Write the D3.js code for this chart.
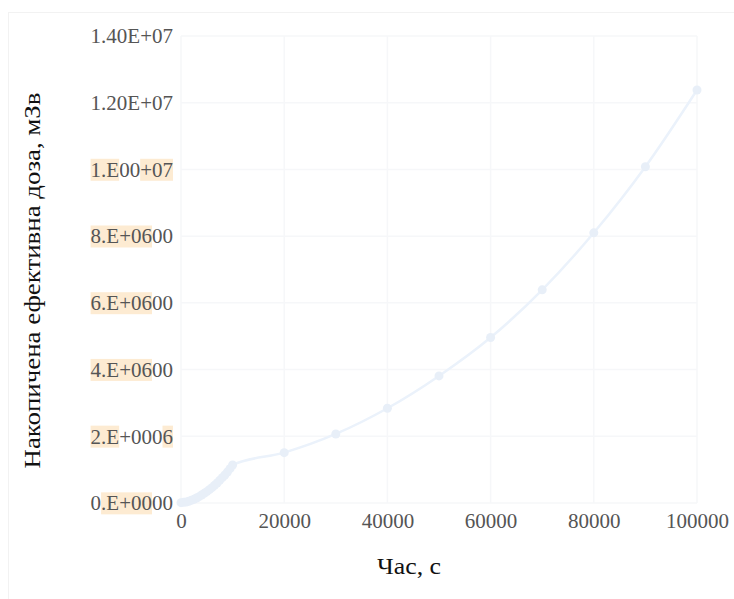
<!DOCTYPE html>
<html>
<head>
<meta charset="utf-8">
<script src="https://cdn.jsdelivr.net/npm/d3@7"></script>
<style>
  body { margin: 0; background: #fff; }
  svg { display: block; }
</style>
</head>
<body>
<script>
'use strict';

const width = 734;
const height = 599;
const margin = {top: 36, right: 37, bottom: 96, left: 181};

// time, s
const times = [0, 500, 1000, 1500, 2000, 2500, 3000, 3500, 4000, 4500, 5000,
  5500, 6000, 6500, 7000, 7500, 8000, 8500, 9000, 9500, 10000,
  20000, 30000, 40000, 50000, 60000, 70000, 80000, 90000, 100000];
// accumulated dose, mSv
const doses = [0.01e6, 0.02e6, 0.03e6, 0.05e6, 0.08e6, 0.11e6, 0.15e6, 0.19e6, 0.24e6, 0.29e6, 0.34e6,
  0.40e6, 0.46e6, 0.53e6, 0.60e6, 0.68e6, 0.76e6, 0.84e6, 0.93e6, 1.03e6, 1.14e6,
  1.51e6, 2.07e6, 2.84e6, 3.81e6, 4.96e6, 6.39e6, 8.10e6, 10.08e6, 12.38e6];

const xTicks = [0, 20000, 40000, 60000, 80000, 100000];
const yTicks = [0, 2e6, 4e6, 6e6, 8e6, 10e6, 12e6, 14e6];
// tick labels as drawn, split into [text, highlighted] pieces
const yTickLabels = [
  [['0', false], ['.E+00', true], ['00', false]],
  [['2.E', true], ['+000', false], ['6', true]],
  [['4.E+06', true], ['00', false]],
  [['6.E+06', true], ['00', false]],
  [['8.E+06', true], ['00', false]],
  [['1.E', true], ['00', false], ['+07', true]],
  [['1.20E+07', false]],
  [['1.40E+07', false]]
];

const xTitle = 'Час, с';
const yTitle = 'Накопичена ефективна доза, мЗв';

const data = times.map((t, i) => ({t: t, v: doses[i]}));

const svg = d3.select('body')
  .append('svg')
  .attr('width', width)
  .attr('height', height)
  .style('font-family', '"Liberation Serif", "Times New Roman", serif');

// outer frame
svg.append('rect')
  .attr('x', 8.5)
  .attr('y', 12.5)
  .attr('width', width)
  .attr('height', height)
  .attr('fill', '#fff')
  .attr('stroke', '#f2f2f2');

const xScale = d3.scaleLinear()
  .domain([0, 100000])
  .range([margin.left, width - margin.right]);

const yScale = d3.scaleLinear()
  .domain([0, 14e6])
  .range([height - margin.bottom, margin.top]);

// grid
svg.append('g')
  .selectAll('line')
  .data(xTicks)
  .enter()
  .append('line')
  .attr('x1', (d) => xScale(d))
  .attr('x2', (d) => xScale(d))
  .attr('y1', yScale(0))
  .attr('y2', yScale(14e6))
  .attr('stroke', '#f6f7f9')
  .attr('stroke-width', 1.5);

svg.append('g')
  .selectAll('line')
  .data(yTicks)
  .enter()
  .append('line')
  .attr('x1', xScale(0))
  .attr('x2', xScale(100000))
  .attr('y1', (d) => yScale(d))
  .attr('y2', (d) => yScale(d))
  .attr('stroke', '#f6f7f9')
  .attr('stroke-width', 1.5);

// x axis labels
const xAxis = d3.axisBottom(xScale)
  .tickValues(xTicks)
  .tickFormat(d3.format('d'))
  .tickSize(0)
  .tickPadding(10);

const gx = svg.append('g')
  .attr('transform', `translate(0, ${yScale(0)})`)
  .call(xAxis);
gx.select('.domain').remove();
gx.selectAll('text')
  .attr('font-family', '"Liberation Serif", serif')
  .attr('font-size', '21px')
  .attr('fill', '#555');

// y axis labels with highlighted pieces
const yLabels = svg.append('g');
yTicks.forEach((v, i) => {
  const g = yLabels.append('g');
  const text = g.append('text')
    .attr('x', margin.left - 8)
    .attr('y', yScale(v))
    .attr('dy', '0.35em')
    .attr('text-anchor', 'end')
    .attr('font-size', '21px')
    .attr('fill', '#555');
  yTickLabels[i].forEach((p) => text.append('tspan').text(p[0]));

  const node = text.node();
  const bb = node.getBBox();
  let offset = 0;
  yTickLabels[i].forEach((p) => {
    const w = node.getSubStringLength(offset, p[0].length);
    const x0 = node.getStartPositionOfChar(offset).x;
    if (p[1]) {
      g.insert('rect', 'text')
        .attr('x', x0)
        .attr('y', bb.y + 1)
        .attr('width', w)
        .attr('height', bb.height - 2)
        .attr('fill', '#fdebd2');
    }
    offset += p[0].length;
  });
});

// line and markers
const line = d3.line()
  .x((d) => xScale(d.t))
  .y((d) => yScale(d.v))
  .curve(d3.curveMonotoneX);

svg.append('path')
  .datum(data)
  .attr('d', line)
  .attr('fill', 'none')
  .attr('stroke', '#ebf2fb')
  .attr('stroke-width', 2.5);

svg.selectAll('circle.pt')
  .data(data)
  .enter()
  .append('circle')
  .attr('class', 'pt')
  .attr('cx', (d) => xScale(d.t))
  .attr('cy', (d) => yScale(d.v))
  .attr('r', 4.5)
  .attr('fill', '#e8eff8');

// titles
svg.append('text')
  .attr('x', 409)
  .attr('y', 574)
  .attr('text-anchor', 'middle')
  .attr('font-size', '24px')
  .attr('textLength', 64)
  .attr('lengthAdjust', 'spacingAndGlyphs')
  .attr('fill', '#111')
  .text(xTitle);

svg.append('text')
  .attr('transform', `translate(40, ${(yScale(0) + yScale(14e6)) / 2 + 11}) rotate(-90)`)
  .attr('text-anchor', 'middle')
  .attr('font-size', '24px')
  .attr('textLength', 376)
  .attr('lengthAdjust', 'spacingAndGlyphs')
  .attr('fill', '#111')
  .text(yTitle);
</script>
</body>
</html>
